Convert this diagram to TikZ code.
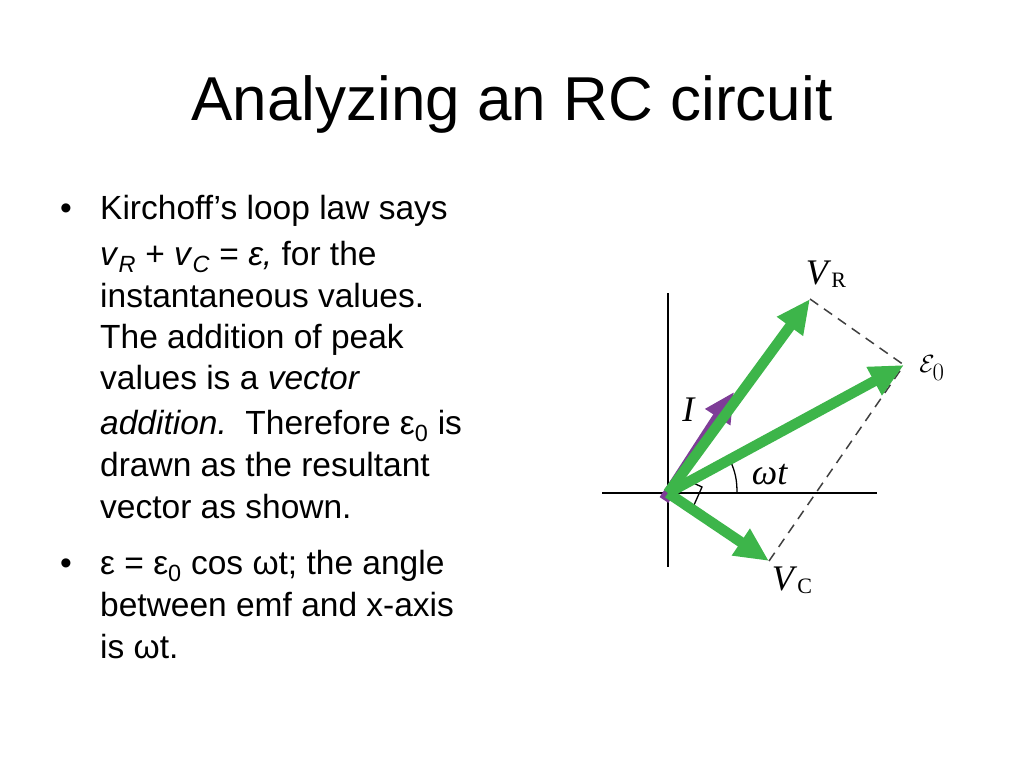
\documentclass[tikz,border=0pt]{standalone}
\usepackage{fontspec}
\setmainfont{Liberation Sans}
\newfontfamily\serifit{Liberation Serif}
\usetikzlibrary{arrows.meta}
\definecolor{vgreen}{HTML}{3DB54A}
\definecolor{ipurple}{HTML}{7E3D97}
\begin{document}
\begin{tikzpicture}[x=1pt,y=-1pt,
  body/.style={anchor=base west,inner sep=0pt,font=\fontsize{33.5}{38}\selectfont},
  lab/.style={inner sep=0pt,font=\fontsize{36}{40}\serifit},
  vec/.style={line width=10.5pt,-{Triangle[length=34pt,width=30pt]}},
  axis/.style={line width=2pt},
  dsh/.style={line width=1.5pt,dash pattern=on 10pt off 7pt,black!75}]
\useasboundingbox (0,0) rectangle (1024,768);
\node[anchor=base,inner sep=0pt,font=\fontsize{62}{70}\selectfont] (title) at (512,120) {Analyzing an RC circuit};
\node[body] (b1) at (60,219) {•};
\node[body] (l1) at (100,219) {Kirchoff’s loop law says};
\node[body] (l2) at (100,265) {\textit{v}\textsubscript{\textit{R}} + \textit{v}\textsubscript{\textit{C}} = \textit{ε,} for the};
\node[body] (l3) at (100,307) {instantaneous values.};
\node[body] (l4) at (100,348) {The addition of peak};
\node[body] (l5) at (100,389) {values is a \textit{vector}};
\node[body] (l6) at (100,434) {\textit{addition.}\ \ Therefore ε\textsubscript{0} is};
\node[body] (l7) at (100,476) {drawn as the resultant};
\node[body] (l8) at (100,518) {vector as shown.};
\node[body] (b2) at (60,574) {•};
\node[body] (m1) at (100,574) {ε = ε\textsubscript{0} cos ωt; the angle};
\node[body] (m2) at (100,616) {between emf and x-axis};
\node[body] (m3) at (100,658) {is ωt.};
% diagram
\coordinate (O) at (668,493);
\coordinate (xl) at (602,493); \coordinate (xr) at (877,493);
\coordinate (yt) at (668,293); \coordinate (yb) at (668,567);
\coordinate (VR) at (810,299);
\coordinate (E) at (904,365);
\coordinate (VC) at (769,561);
\coordinate (Is) at (664,500); \coordinate (It) at (734,392);
\coordinate (ra1) at (689,481); \coordinate (ra2) at (702,487); \coordinate (ra3) at (694,505);
\coordinate (arcs) at (737,493); \coordinate (arce) at (730,460);
\draw[axis] (xl) -- (xr);
\draw[axis] (yt) -- (yb);
\draw[dsh] (VR) -- (E);
\draw[dsh] (VC) -- (E);
\draw[line width=1.3pt] (ra1) -- (ra2) -- (ra3);
\draw[line width=1.3pt] (arcs) to[bend right=12] (arce);
\draw[vec,ipurple,-{Triangle[length=30pt,width=28pt]}] (Is) -- (It);
\draw[vec,vgreen] (O) -- (VR);
\draw[vec,vgreen] (O) -- (E);
\draw[vec,vgreen] (O) -- (VC);
\node[lab] (lVR) at (826,274) {\textit{V}\raisebox{-3pt}{\fontsize{22}{24}\selectfont R}};
\node[lab] (lE) at (932,368) {$\mathcal{E}_{0}$};
\node[lab] (lwt) at (770,475) {\textit{ωt}};
\node[lab] (lI) at (689,410) {\textit{I}};
\node[lab] (lVC) at (792,580) {\textit{V}\raisebox{-3pt}{\fontsize{22}{24}\selectfont C}};
\end{tikzpicture}
\end{document}
